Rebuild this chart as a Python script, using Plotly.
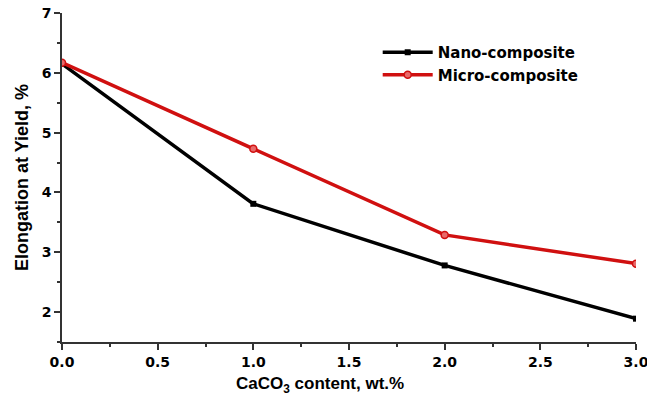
import plotly.graph_objects as go

x_vals = [0.0, 1.0, 2.0, 3.0]
nano_vals = [6.15, 3.81, 2.78, 1.89]
micro_vals = [6.17, 4.73, 3.29, 2.81]
series_names = ["Nano-composite", "Micro-composite"]

fig = go.Figure()
fig.add_trace(go.Scatter(
    x=x_vals, y=nano_vals, name=series_names[0], mode="lines+markers",
    line=dict(color="black", width=3.5),
    marker=dict(symbol="square", size=6, color="black"),
))
fig.add_trace(go.Scatter(
    x=x_vals, y=micro_vals, name=series_names[1], mode="lines+markers",
    line=dict(color="#d01010", width=3.5),
    marker=dict(symbol="circle", size=7, color="#e86a6a", line=dict(color="#d01010", width=1.5)),
))

font_family = "Liberation Sans, Arial, sans-serif"
wide_font = "DejaVu Sans, sans-serif"
fig.update_layout(
    width=647, height=395,
    margin=dict(l=62, r=11, t=13, b=53),
    plot_bgcolor="white", paper_bgcolor="white",
    font=dict(family=font_family, color="black"),
    showlegend=True,
    legend=dict(x=0.55, y=0.93, xanchor="left", yanchor="top",
                font=dict(size=15, family=wide_font, color="black", weight="bold"),
                bgcolor="rgba(0,0,0,0)", tracegroupgap=0, itemwidth=50),
    xaxis=dict(
        range=[0, 3], showgrid=False, zeroline=False, automargin=False,
        showline=True, linecolor="#333", linewidth=1.5,
        ticks="outside", ticklen=6, tickcolor="#333", tickwidth=1.5,
        dtick=0.5, tick0=0, tickformat=".1f", ticklabeloverflow="allow",
        tickfont=dict(size=14, family=wide_font, weight="bold"),
        minor=dict(ticks="outside", dtick=0.25, ticklen=3, tickcolor="#333", tickwidth=1.5),
        mirror=False,
    ),
    yaxis=dict(
        range=[1.5, 7], showgrid=False, zeroline=False, automargin=False,
        showline=True, linecolor="#333", linewidth=1.5,
        ticks="outside", ticklen=6, tickcolor="#333", tickwidth=1.5,
        dtick=1, tick0=0, ticklabeloverflow="allow",
        tickfont=dict(size=14, family=wide_font, weight="bold"),
        minor=dict(ticks="outside", dtick=0.5, ticklen=3, tickcolor="#333", tickwidth=1.5),
        title=dict(text="Elongation at Yield, %", font=dict(size=18, weight="bold"), standoff=8),
        mirror=False,
    ),
    annotations=[dict(
        text="CaCO<sub>3</sub> content, wt.%", xref="paper", yref="paper",
        x=0.449, y=0, yshift=-56, xanchor="center", yanchor="bottom",
        showarrow=False, font=dict(size=17, weight="bold", family=font_family),
    )],
)
fig.write_html("out.html")
